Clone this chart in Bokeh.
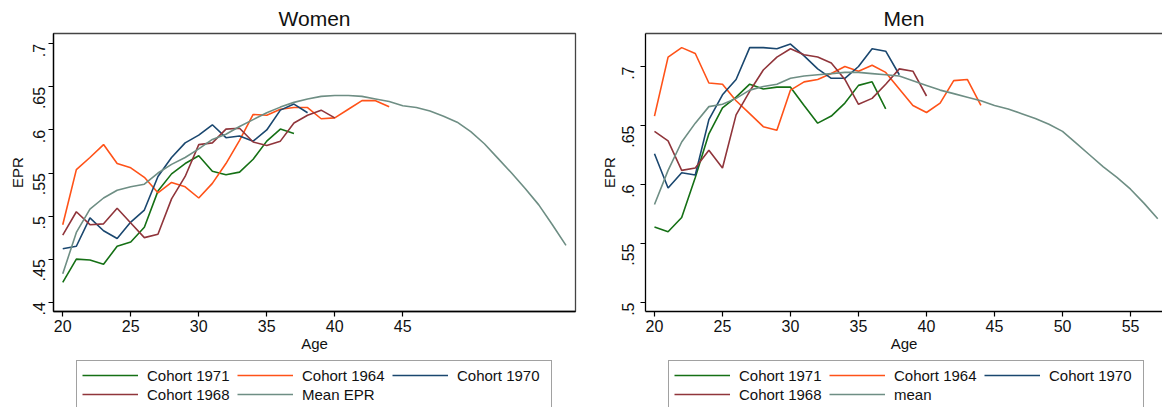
import math
from bokeh.plotting import figure
from bokeh.models import Range1d, FixedTicker, LinearAxis, Legend, LegendItem
from bokeh.layouts import row, column
from bokeh.embed import file_html
from bokeh.resources import INLINE

# ---------------- data ----------------
age_1971 = list(range(20, 38))
age_1964 = list(range(20, 45))
age_1970 = list(range(20, 39))
age_1968 = list(range(20, 41))
age_mean = list(range(20, 58))

w_1971 = [.423, .450, .449, .444, .465, .470, .487, .529, .549, .561, .570, .552,
          .548, .551, .566, .587, .601, .596]
w_1964 = [.490, .554, .568, .583, .561, .556, .545, .527, .539, .534, .521, .538,
          .561, .588, .618, .617, .624, .626, .626, .613, .614, .624, .634, .634, .627]
w_1970 = [.462, .465, .498, .483, .474, .493, .507, .546, .568, .585, .594, .606,
          .591, .593, .587, .600, .623, .630, .620]
w_1968 = [.478, .505, .490, .491, .509, .492, .475, .479, .520, .546, .583, .585,
          .601, .602, .586, .582, .587, .608, .617, .623, .614]
w_mean = [.433, .481, .508, .521, .530, .534, .537, .550, .560, .568, .578, .589,
          .595, .604, .612, .620, .6265, .632, .636, .639, .640, .640, .639, .636,
          .633, .628, .626, .622, .616, .609, .598, .584, .567, .550, .532, .513,
          .490, .466]

m_1971 = [.564, .560, .572, .606, .643, .665, .674, .685, .681, .6825, .6825, .667,
          .652, .658, .669, .684, .687, .664]
m_1964 = [.658, .708, .716, .711, .686, .685, .671, .660, .649, .646, .680, .687,
          .689, .694, .700, .696, .701, .695, .681, .667, .661, .669, .688, .689, .667]
m_1970 = [.626, .597, .610, .608, .655, .676, .689, .716, .716, .715, .719, .709,
          .698, .690, .690, .700, .715, .713, .693]
m_1968 = [.645, .637, .612, .614, .629, .614, .659, .679, .697, .708, .715, .710,
          .708, .703, .689, .668, .673, .685, .698, .696, .675]
m_mean = [.583, .612, .636, .652, .666, .668, .673, .680, .683, .685, .690, .692,
          .693, .694, .695, .695, .694, .693, .692, .688, .684, .680, .677, .674,
          .671, .667, .664, .660, .656, .651, .645, .635, .625, .615, .606, .596,
          .584, .571]

w_xticks = [20, 25, 30, 35, 40, 45]
m_xticks = [20, 25, 30, 35, 40, 45, 50, 55]
w_yticks = [0.4, 0.45, 0.5, 0.55, 0.6, 0.65, 0.7]
m_yticks = [0.5, 0.55, 0.6, 0.65, 0.7]

legend_labels_w = ["Cohort 1971", "Cohort 1964", "Cohort 1970", "Cohort 1968", "Mean EPR"]
legend_labels_m = ["Cohort 1971", "Cohort 1964", "Cohort 1970", "Cohort 1968", "mean"]

C1971 = "#157015"
C1964 = "#ff5218"
C1970 = "#1a476f"
C1968 = "#90353b"
CMEAN = "#6e8e84"
FONT = "Liberation Sans"
MAIN_H = 358
LEG_H = 407 - MAIN_H


def ylab(v):
    s = ("%.2f" % v).rstrip("0").rstrip(".")
    return s[1:] if s.startswith("0") else s


def make_panel(title, width, border_left, border_right, xr, yr, xticks, yticks,
               series, outline, ylab_standoff, ytitle_standoff):
    p = figure(width=width, height=MAIN_H, output_backend="svg", toolbar_location=None,
               x_range=Range1d(*xr), y_range=Range1d(*yr),
               min_border_left=border_left, min_border_right=border_right,
               min_border_top=33, min_border_bottom=MAIN_H - 311,
               x_axis_label="Age", y_axis_label="EPR")
    p.xgrid.visible = False
    p.ygrid.visible = False
    p.background_fill_color = "white"
    p.border_fill_color = "white"

    xax = p.below[0]
    yax = p.left[0]
    for ax in (xax, yax):
        ax.axis_line_color = "black"
        ax.axis_line_width = 1.3
        ax.major_tick_line_color = "black"
        ax.major_tick_line_width = 1.2
        ax.major_tick_out = 5
        ax.major_tick_in = 0
        ax.minor_tick_line_color = None
        ax.major_label_text_font = FONT
        ax.major_label_text_font_size = "16px"
        ax.major_label_text_color = "#111111"
        ax.axis_label_text_font = FONT
        ax.axis_label_text_font_size = "15px"
        ax.axis_label_text_font_style = "normal"
        ax.axis_label_text_color = "#111111"

    xax.ticker = FixedTicker(ticks=xticks)
    xax.major_label_standoff = 3
    xax.axis_label_standoff = 0
    yax.ticker = FixedTicker(ticks=yticks)
    yax.major_label_overrides = {v: ylab(v) for v in yticks}
    yax.major_label_orientation = math.pi / 2
    yax.major_label_standoff = ylab_standoff
    yax.axis_label_standoff = ytitle_standoff

    if outline:
        p.outline_line_color = "#444444"
        p.outline_line_width = 1.3
    else:
        p.outline_line_color = None
        top = LinearAxis(ticker=FixedTicker(ticks=[]), axis_line_color="#444444",
                         axis_line_width=1.3, major_tick_line_color=None,
                         minor_tick_line_color=None, major_label_text_font_size="0px",
                         major_label_standoff=0, axis_label=None)
        p.add_layout(top, "above")

    p.title.text = title
    p.title.align = "center"
    p.title.text_font = FONT
    p.title.text_font_size = "21px"
    p.title.text_font_style = "normal"
    p.title.text_color = "#111111"
    p.title.standoff = 7

    for ages, vals, color in series:
        p.line(ages, vals, line_color=color, line_width=1.6)
    return p


def make_legend(width, x_left, labels, series):
    lf = figure(width=width, height=LEG_H, output_backend="svg", toolbar_location=None,
                x_range=Range1d(1000, 1001), y_range=Range1d(0, 1),
                x_axis_location=None, y_axis_location=None,
                min_border_left=0, min_border_right=0, min_border_top=0,
                min_border_bottom=0)
    lf.xgrid.visible = False
    lf.ygrid.visible = False
    lf.outline_line_color = None
    lf.background_fill_color = "white"
    lf.border_fill_color = "white"
    items = []
    for lab, (ages, vals, color) in zip(labels, series):
        # same series, drawn outside this strip's visible range: only its legend key shows
        r = lf.line(ages, vals, line_color=color, line_width=1.6)
        items.append(LegendItem(label=lab, renderers=[r]))
    leg = Legend(items=items, orientation="horizontal", ncols=3,
                 location=(x_left, -2), padding=5, spacing=1, margin=0,
                 glyph_width=56, glyph_height=18, label_height=18, label_width=89,
                 label_standoff=9, label_text_font=FONT, label_text_font_size="15px",
                 label_text_color="#111111", border_line_color="#444444",
                 border_line_width=1.5, background_fill_color="white",
                 background_fill_alpha=1.0)
    lf.add_layout(leg, "center")
    return lf


w_series = [(age_1971, w_1971, C1971), (age_1964, w_1964, C1964),
            (age_1970, w_1970, C1970), (age_1968, w_1968, C1968),
            (age_mean, w_mean, CMEAN)]
m_series = [(age_1971, m_1971, C1971), (age_1964, m_1964, C1964),
            (age_1970, m_1970, C1970), (age_1968, m_1968, C1968),
            (age_mean, m_mean, CMEAN)]

women = make_panel("Women", 584, 53, 9, (19.32, 57.70), (0.38923, 0.71196),
                   w_xticks, w_yticks, w_series, True, 9, -1)
men = make_panel("Men", 578, 61, 0, (19.34, 57.35), (0.49237, 0.72797),
                 m_xticks, m_yticks, m_series, False, 12, -4)

leg_w = make_legend(584, 76, legend_labels_w, w_series)
leg_m = make_legend(578, 84, legend_labels_m, m_series)

layout = column(row(women, men, spacing=0), row(leg_w, leg_m, spacing=0), spacing=0)
open("out.html", "w").write(file_html(layout, INLINE))
